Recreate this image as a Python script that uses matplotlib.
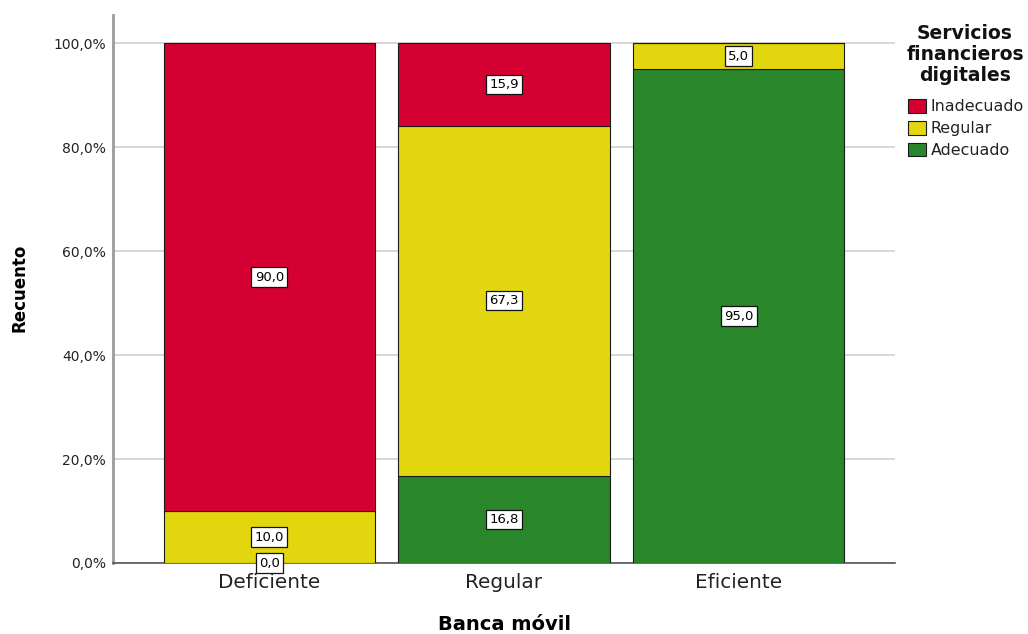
import numpy as np
import matplotlib
matplotlib.use("Agg")
import matplotlib.pyplot as plt
from matplotlib.patches import Patch

plt.rcParams['font.family'] = ['DejaVu Sans']

categories = ["Deficiente", "Regular", "Eficiente"]
series_names = ["Inadecuado", "Regular", "Adecuado"]
adecuado = [0.0, 16.8, 95.0]
regular = [10.0, 67.3, 5.0]
inadecuado = [90.0, 15.9, np.nan]   # nan: category absent (no label)
yticks = [0, 20, 40, 60, 80, 100]
ytick_labels = ["0,0%", "20,0%", "40,0%", "60,0%", "80,0%", "100,0%"]
legend_title = "Servicios\nfinancieros\ndigitales"

colors = {"Inadecuado": "#D50032", "Regular": "#E2D70E", "Adecuado": "#2A862B"}

W, H = 1028, 634
fig = plt.figure(figsize=(W / 100, H / 100), dpi=100)
ax = fig.add_axes([113 / W, 1 - 563 / H, (895 - 113) / W, (563 - 15) / H])

x = np.arange(len(categories))
width = 0.9
stack = [("Adecuado", adecuado), ("Regular", regular), ("Inadecuado", inadecuado)]
bottom = np.zeros(len(categories))
for name, vals in stack:
    v = np.nan_to_num(np.array(vals, dtype=float))
    ax.bar(x, v, width, bottom=bottom, color=colors[name], edgecolor="#1a1a1a",
           linewidth=0.8, zorder=3)
    for i, val in enumerate(vals):
        if not np.isnan(val):
            ax.text(x[i], bottom[i] + val / 2, f"{val:.1f}".replace(".", ","),
                    ha="center", va="center", fontsize=9.5, color="#000000", zorder=5,
                    bbox=dict(boxstyle="square,pad=0.25", facecolor="white",
                              edgecolor="#111111", linewidth=0.9))
    bottom += v

ax.set_xlim(-2 / 3, 2 + 2 / 3)
ax.set_ylim(0, 105.4)
ax.set_yticks(yticks)
ax.set_yticklabels(ytick_labels, fontsize=10, color="#222222")
ax.set_xticks(x)
ax.set_xticklabels(categories, fontsize=14.4, color="#222222")
ax.tick_params(axis="both", length=0)
ax.tick_params(axis="y", pad=5)
ax.tick_params(axis="x", pad=7)
ax.yaxis.grid(True, color="#d0d0d0", linewidth=1.2, zorder=0)
ax.set_axisbelow(True)
for s in ["top", "right"]:
    ax.spines[s].set_visible(False)
ax.spines["left"].set_color("#9a9a9a")
ax.spines["left"].set_linewidth(2)
ax.spines["bottom"].set_color("#555555")
ax.spines["bottom"].set_linewidth(1.2)

ax.set_ylabel("Recuento", fontsize=12, fontweight="bold")
ax.set_xlabel("Banca móvil", fontsize=14, fontweight="bold")
ax.xaxis.set_label_coords(0.5, -52 / 548)
ax.yaxis.set_label_coords(-84 / 782, 0.503)

fig.text(965 / W, 1 - 24 / H, legend_title, ha="center", va="top",
         fontsize=13.5, fontweight="bold", color="#111111", linespacing=1.14,
         multialignment="center")

handles = [Patch(facecolor=colors[n], edgecolor="#1a1a1a", linewidth=0.8) for n in series_names]
leg = fig.legend(handles, series_names, loc="upper left",
                 bbox_to_anchor=(908 / W, 1 - 99 / H),
                 frameon=False, fontsize=11.4,
                 handlelength=1.13, handleheight=0.95, handletextpad=0.3,
                 labelspacing=0.42, borderpad=0, borderaxespad=0)
for t in leg.get_texts():
    t.set_color("#222222")

fig.savefig("out.png", dpi=100)
